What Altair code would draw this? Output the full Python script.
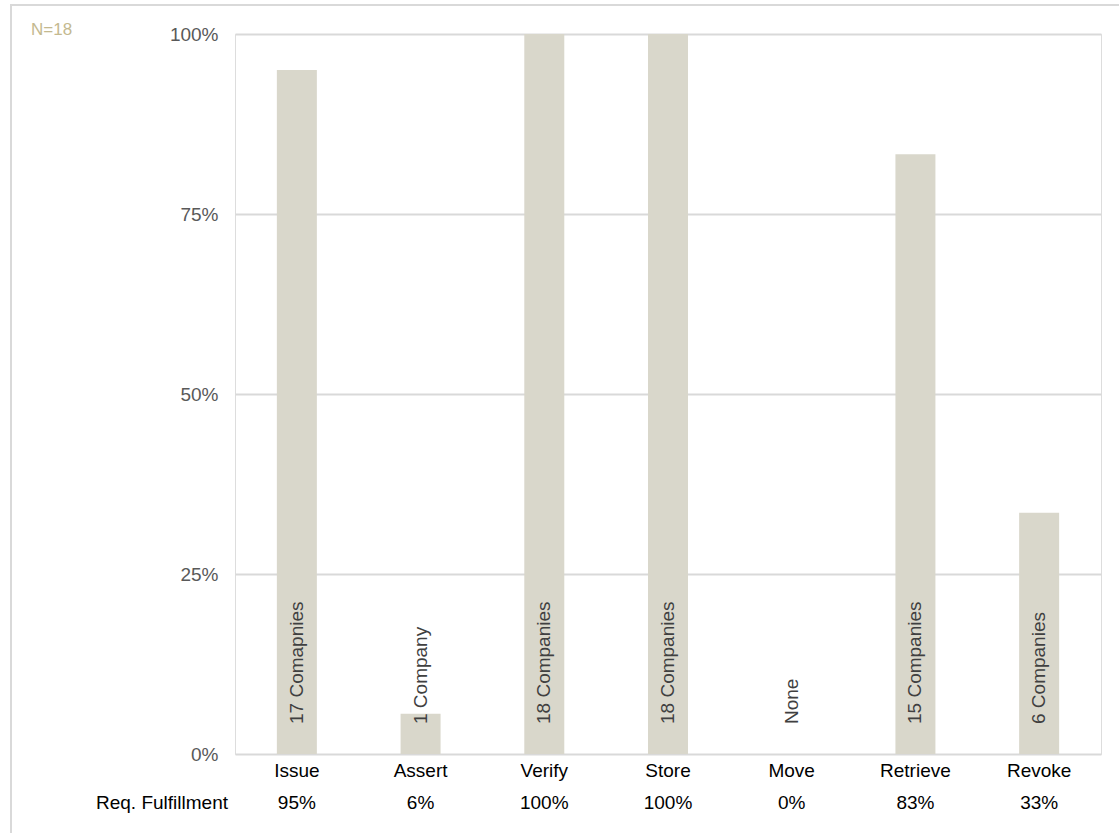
import altair as alt
import pandas as pd

categories = ["Issue", "Assert", "Verify", "Store", "Move", "Retrieve", "Revoke"]
share = [0.95, 0.056, 1.0, 1.0, 0.0, 0.833, 0.335]
bar_labels = ["17 Comapnies", "1 Company", "18 Companies", "18 Companies",
              "None", "15 Companies", "6 Companies"]
fulfillment = ["95%", "6%", "100%", "100%", "0%", "83%", "33%"]
y_ticks = [0, 0.25, 0.5, 0.75, 1.0]

df = pd.DataFrame({"cat": categories, "share": share,
                   "label": bar_labels, "ful": fulfillment})

FONT = "Liberation Sans"
FS = 19
W, H = 866, 720

xenc = alt.X("cat:N", sort=categories,
             scale=alt.Scale(paddingInner=0, paddingOuter=0),
             axis=alt.Axis(title=None, labelAngle=0, labelFontSize=FS,
                           labelColor="#000000", labelFont=FONT,
                           labelPadding=7, domain=False, ticks=False,
                           labelBaseline="top"))
yscale = alt.Scale(domain=[0, 1])

base = alt.Chart(df)

bars = base.mark_bar(size=40, color="#d9d7cb").encode(
    x=xenc,
    y=alt.Y("share:Q", scale=yscale,
            axis=alt.Axis(title=None, values=y_ticks, format=".0%",
                          labelFontSize=FS, labelColor="#595959",
                          labelFont=FONT, labelPadding=17, domain=False,
                          ticks=False, gridColor="#d9d9d9", gridWidth=2)),
)

inner = base.mark_text(angle=270, align="left", baseline="middle",
                       fontSize=FS, font=FONT, color="#404040").encode(
    x=alt.X("cat:N", sort=categories),
    y=alt.value(H - 30),
    text="label:N",
)

bottom = base.mark_text(align="center", baseline="middle",
                        fontSize=FS, font=FONT, color="#000000").encode(
    x=alt.X("cat:N", sort=categories),
    y=alt.value(769),
    text="ful:N",
)

one = alt.Chart(pd.DataFrame({"t": ["Req. Fulfillment"], "n": ["N=18"]}))
row_title = one.mark_text(align="right", baseline="middle", fontSize=FS,
                          font=FONT, color="#000000").encode(
    x=alt.value(-7), y=alt.value(769), text="t:N")
ntext = one.mark_text(align="left", baseline="middle", fontSize=17,
                      font=FONT, color="#c4b98f").encode(
    x=alt.value(-204), y=alt.value(-4), text="n:N")
frame = one.mark_rect(fill=None, stroke="#d9d9d9", strokeWidth=2).encode(
    x=alt.value(-224), x2=alt.value(1000), y=alt.value(-29), y2=alt.value(1000))

chart = alt.layer(frame, bars, inner, bottom, row_title, ntext).properties(
    width=W, height=H,
    autosize=alt.AutoSizeParams(type="none"),
    padding={"left": 235, "top": 34, "right": 18, "bottom": 79},
).configure_view(stroke=None).configure(background="white")

chart.save("out.html", embed_options={"renderer": "svg", "actions": False})
